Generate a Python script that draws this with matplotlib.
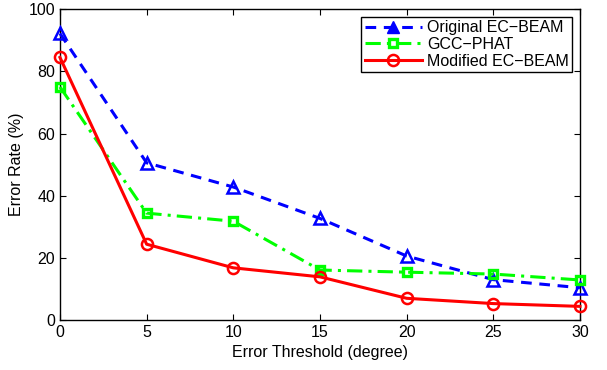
import numpy as np
import matplotlib.pyplot as plt
from matplotlib.lines import Line2D

plt.rcParams['font.family'] = ['Liberation Sans', 'DejaVu Sans']

thresh = [0, 5, 10, 15, 20, 25, 30]
original = [92.2, 50.6, 42.8, 32.7, 20.6, 13.0, 10.4]
gcc = [75.0, 34.4, 31.8, 16.1, 15.4, 14.8, 12.9]
modified = [84.5, 24.4, 16.8, 13.9, 7.0, 5.3, 4.4]

fig = plt.figure(figsize=(6.07, 3.70), dpi=100)
ax = fig.add_axes([0.0988, 0.135, 0.8567, 0.84])

ax.plot(thresh, original, color='#0000ff', ls=(0, (3.5, 2.5)), lw=2.2,
        marker='^', ms=9, mfc='none', mew=1.8, clip_on=False, zorder=3)
ax.plot(thresh, gcc, color='#00ff00', ls=(0, (5, 2, 1, 2)), lw=2.2,
        marker='s', ms=6, mfc='none', mew=2.4, clip_on=False, zorder=3)
ax.plot(thresh, modified, color='#ff0000', ls='-', lw=2.2,
        marker='o', ms=8, mfc='none', mew=1.8, clip_on=False, zorder=3)

# legend handles (blue triangle shows filled in the legend)
h1 = Line2D([], [], color='#0000ff', ls=(0, (3.5, 2.5)), lw=2.2, marker='^', ms=9, mfc='#0000ff')
h2 = Line2D([], [], color='#00ff00', ls=(0, (5, 2, 1, 2)), lw=2.2, marker='s', ms=6, mfc='none', mew=2.4)
h3 = Line2D([], [], color='#ff0000', ls='-', lw=2.2, marker='o', ms=8, mfc='none', mew=1.8)
leg = ax.legend([h1, h2, h3], ['Original EC\u2212BEAM', 'GCC\u2212PHAT', 'Modified EC\u2212BEAM'],
                loc='upper right', fontsize=11.5, fancybox=False, framealpha=1,
                edgecolor='black', handlelength=3.6, borderpad=0.2, labelspacing=0.1,
                handletextpad=0.3, borderaxespad=0.5)
leg.get_frame().set_linewidth(1.0)
leg.set_zorder(5)

ax.set_xlim(0, 30)
ax.set_ylim(0, 100)
ax.set_xticks(thresh)
ax.set_yticks([0, 20, 40, 60, 80, 100])
ax.tick_params(direction='in', top=True, right=True, labelsize=11.5, length=4, width=0.8)
for s in ax.spines.values():
    s.set_linewidth(1.0)
ax.set_xlabel('Error Threshold (degree)', fontsize=11.5, labelpad=4)
ax.set_ylabel('Error Rate (%)', fontsize=11.5, labelpad=3)

fig.savefig('out.png', dpi=100)
